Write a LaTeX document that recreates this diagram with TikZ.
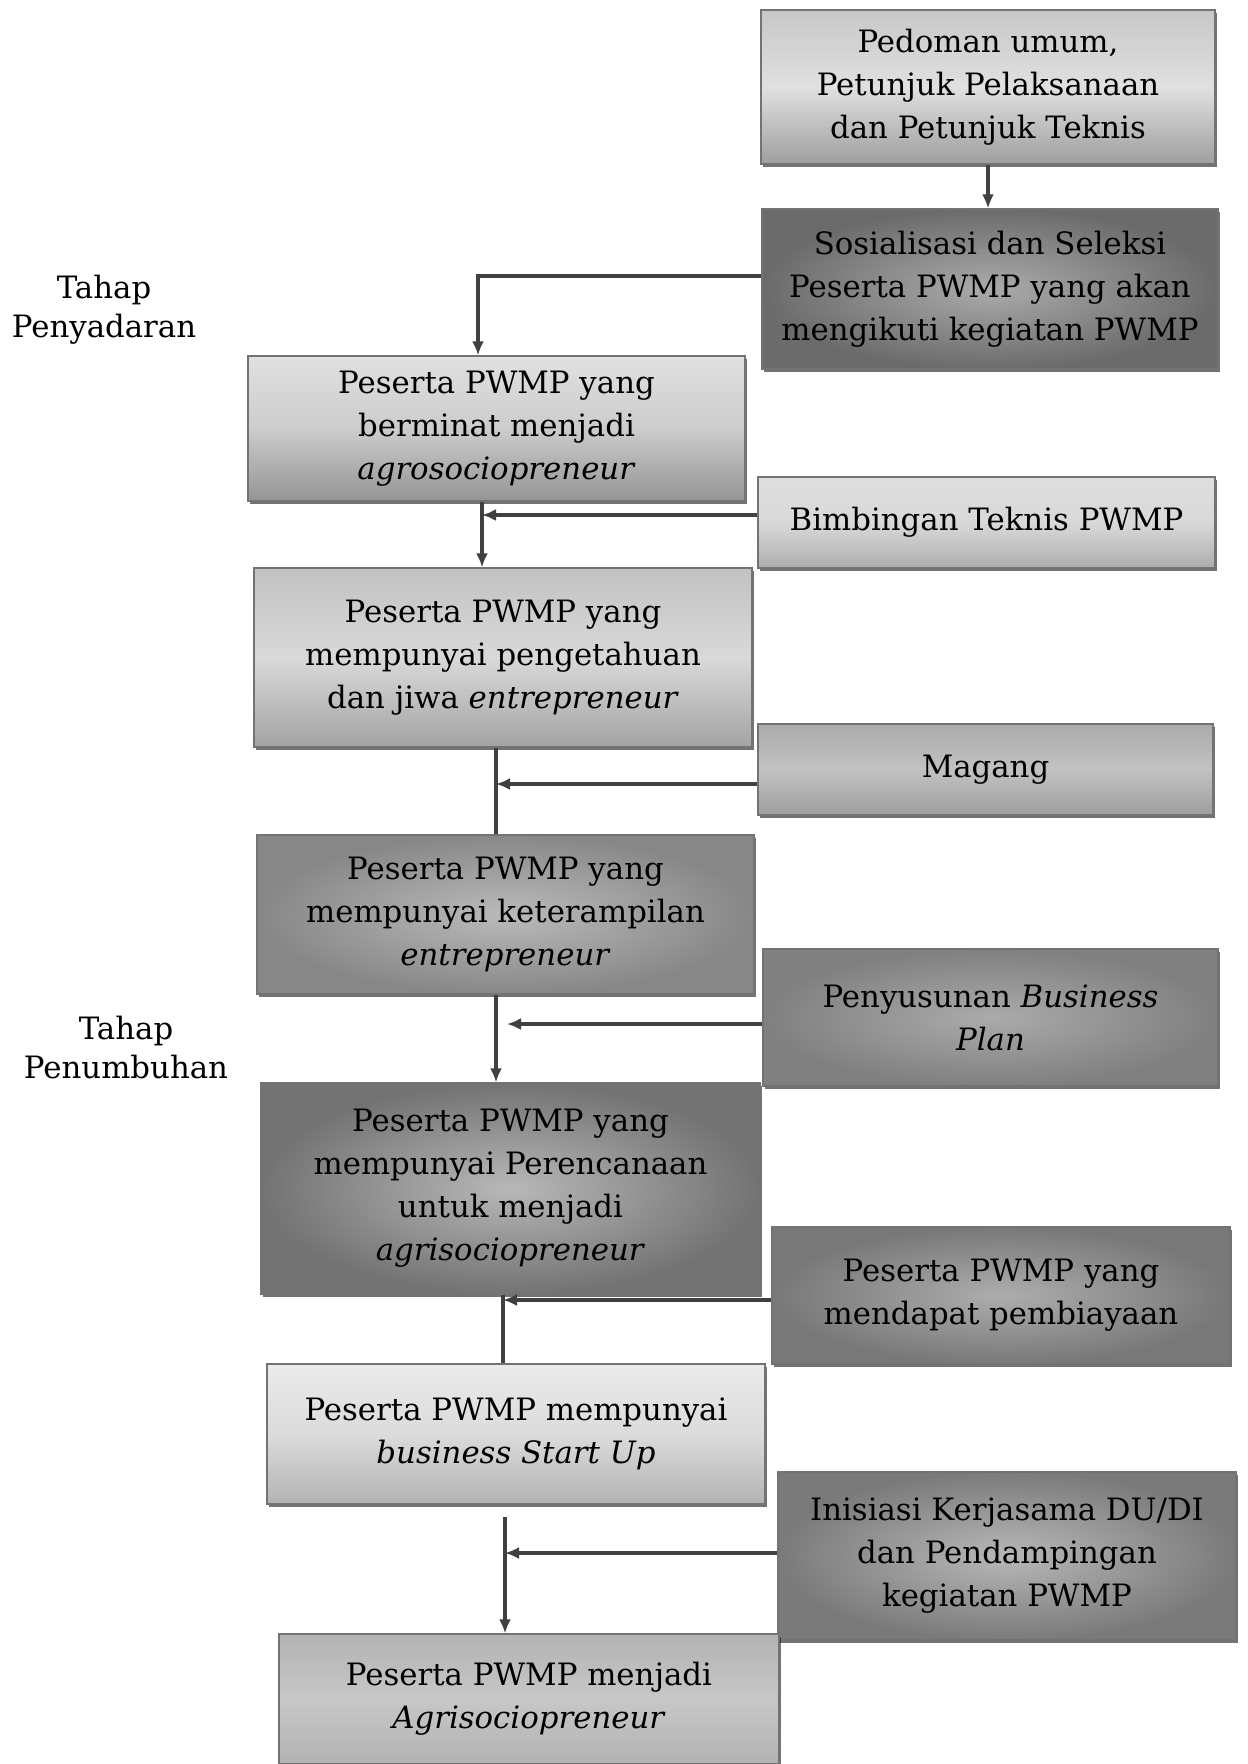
\documentclass[tikz,border=0pt]{standalone}
\usepackage{fontspec}
\setmainfont{DejaVu Serif}
\usetikzlibrary{shadows,arrows.meta}
\begin{document}
\begin{tikzpicture}[x=0.5pt,y=-0.5pt]
\tikzset{
 bx/.style={draw=black!55, line width=0.6pt, align=center, inner sep=2pt,
   font=\fontsize{15.4pt}{21.5pt}\selectfont,
   drop shadow={shadow xshift=0.8pt, shadow yshift=-1.6pt, fill=black, opacity=0.55}},
 vsh/.style n args={3}{top color=#1, bottom color=#3, middle color=#2},
 rsh/.style 2 args={inner color=#1, outer color=#2},
 lbl/.style={align=center, font=\fontsize{15.4pt}{19.5pt}\selectfont},
 lin/.style={draw=black!75, line width=1.6pt},
 arr/.style={lin, -{Latex[length=7pt,width=6pt]}}
}
\fill[white] (0,0) rectangle (1247,1764);
\clip (0,0) rectangle (1247,1764);

% boxes
\node[bx, vsh={black!22}{black!12}{black!38}, minimum width=227pt, minimum height=77pt] (b1) at (988,87)
  {Pedoman umum,\\Petunjuk Pelaksanaan\\dan Petunjuk Teknis};
\node[bx, rsh={black!33}{black!58}, minimum width=228pt, minimum height=80pt] (b2) at (990,289)
  {Sosialisasi dan Seleksi\\Peserta PWMP yang akan\\mengikuti kegiatan PWMP};
\node[bx, vsh={black!12}{black!20}{black!42}, minimum width=248.5pt, minimum height=72.5pt] (b3) at (496.5,428.5)
  {Peserta PWMP yang\\berminat menjadi\\\textit{agrosociopreneur}};
\node[bx, vsh={black!13}{black!15}{black!32}, minimum width=228.5pt, minimum height=45.5pt] (b4) at (986.5,522.5)
  {\raisebox{2.8pt}{Bimbingan Teknis PWMP}};
\node[bx, vsh={black!24}{black!15}{black!36}, minimum width=249pt, minimum height=89.5pt] (b5) at (503,657.5)
  {Peserta PWMP yang\\mempunyai pengetahuan\\dan jiwa \textit{entrepreneur}};
\node[bx, vsh={black!33}{black!24}{black!38}, minimum width=227.5pt, minimum height=45.5pt] (b6) at (985.5,769.5)
  {\raisebox{3.4pt}{Magang}};
\node[bx, rsh={black!27}{black!47}, minimum width=248.5pt, minimum height=79.5pt] (b7) at (505.5,914.5)
  {Peserta PWMP yang\\mempunyai keterampilan\\\textit{entrepreneur}};
\node[bx, rsh={black!33}{black!50}, minimum width=227.5pt, minimum height=68.5pt] (b8) at (990.5,1017.5)
  {Penyusunan \textit{Business}\\\textit{Plan}};
\node[bx, rsh={black!28}{black!55}, minimum width=249.5pt, minimum height=105.5pt] (b9) at (510.5,1188.5)
  {Peserta PWMP yang\\mempunyai Perencanaan\\untuk menjadi\\\textit{agrisociopreneur}};
\node[bx, rsh={black!32}{black!53}, minimum width=229pt, minimum height=68.5pt] (b10) at (1001,1295.5)
  {Peserta PWMP yang\\mendapat pembiayaan};
\node[bx, vsh={black!8}{black!14}{black!30}, minimum width=249pt, minimum height=70pt] (b11) at (516,1434)
  {Peserta PWMP mempunyai\\\textit{business Start Up}};
\node[bx, rsh={black!28}{black!52}, minimum width=229pt, minimum height=84pt] (b12) at (1007,1556)
  {Inisiasi Kerjasama DU/DI\\dan Pendampingan\\kegiatan PWMP};
\node[bx, vsh={black!30}{black!22}{black!30}, minimum width=250pt, minimum height=65pt] (b13) at (529,1699)
  {Peserta PWMP menjadi\\\textit{Agrisociopreneur}};

% side labels
\node[lbl] (t1) at (104,310) {Tahap\\Penyadaran};
\node[lbl] (t2) at (126,1048) {Tahap\\Penumbuhan};

% helper coordinates
\coordinate (v1) at (478,0);
\coordinate (v2) at (482,0);
\coordinate (v3) at (496,0);
\coordinate (v4) at (503,0);
\coordinate (v5) at (505,0);
\coordinate (h1) at (0,276);
\coordinate (h2) at (0,515);
\coordinate (h3) at (0,784);
\coordinate (h4) at (0,1024);
\coordinate (h5) at (0,1300);
\coordinate (h6) at (0,1553);
\coordinate (s11) at (505,1517);
\coordinate (e8) at (507,1024);

% connectors
\draw[arr] (b1.south) -- (b1.south |- b2.north);
\draw[arr] (b2.west |- h1) -| (v1 |- b3.north);
\draw[arr] (v2 |- b3.south) -- (v2 |- b5.north);
\draw[arr] (b4.west |- h2) -- (v2 |- h2);
\draw[lin] (v3 |- b5.south) -- (v3 |- b7.north);
\draw[arr] (b6.west |- h3) -- (v3 |- h3);
\draw[arr] (v3 |- b7.south) -- (v3 |- b9.north);
\draw[arr] (b8.west |- h4) -- (e8);
\draw[lin] (v4 |- b9.south) -- (v4 |- b11.north);
\draw[arr] (b10.west |- h5) -- (v4 |- h5);
\draw[arr] (s11) -- (v5 |- b13.north);
\draw[arr] (b12.west |- h6) -- (v5 |- h6);
\end{tikzpicture}
\end{document}
